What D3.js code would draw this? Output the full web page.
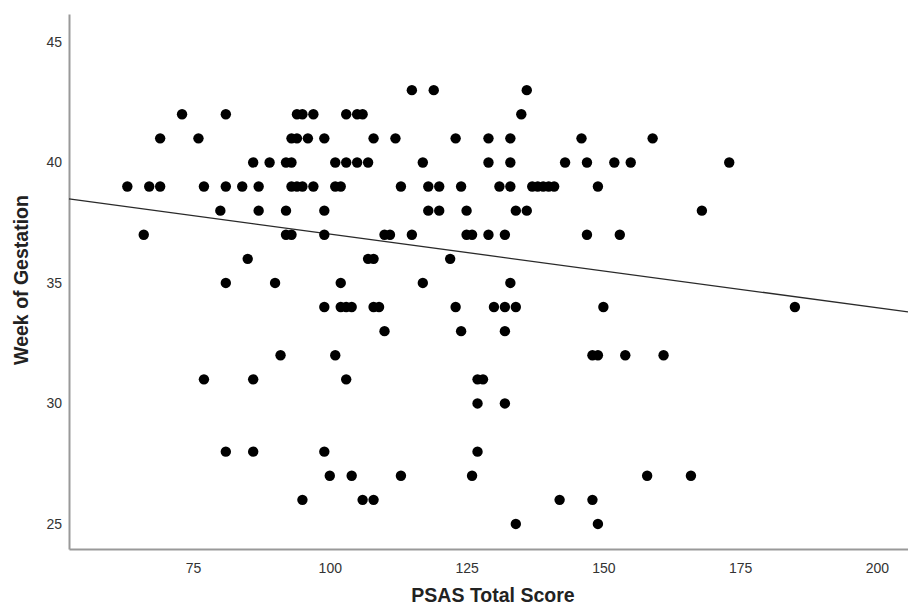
<!DOCTYPE html>
<html>
<head>
<meta charset="utf-8">
<script src="https://cdn.jsdelivr.net/npm/d3@7"></script>
<style>
  html, body { margin: 0; padding: 0; background: #fff; }
  svg { display: block; }
  text { font-family: "Liberation Sans", Arial, Helvetica, sans-serif; }
</style>
</head>
<body>
<svg id="chart" width="908" height="605"></svg>
<script>
// Points: weeks of gestation (y) and PSAS total scores (x) at that week
const weeks = [43, 42, 41, 40, 39, 38, 37, 36, 35, 34, 33, 32, 31, 30, 28, 27, 26, 25];
const scoresByWeek = [
  [115, 119, 136],
  [73, 81, 94, 95, 97, 103, 105, 106, 135],
  [69, 76, 93, 94, 96, 99, 108, 112, 123, 129, 133, 146, 159],
  [86, 89, 92, 93, 101, 103, 105, 107, 117, 129, 133, 143, 147, 152, 155, 173],
  [63, 67, 69, 77, 81, 84, 87, 93, 94, 95, 97, 101, 102, 113, 118, 120, 124, 131, 133, 137, 138, 139, 140, 141, 149],
  [80, 87, 92, 99, 118, 120, 125, 134, 136, 168],
  [66, 92, 93, 99, 110, 111, 115, 125, 126, 129, 132, 147, 153],
  [85, 107, 108, 122],
  [81, 90, 102, 117, 133],
  [99, 102, 103, 104, 108, 109, 123, 130, 132, 134, 150, 185],
  [110, 124, 132],
  [91, 101, 148, 149, 154, 161],
  [77, 86, 103, 127, 128],
  [127, 132],
  [81, 86, 99, 127],
  [100, 104, 113, 126, 158, 166],
  [95, 106, 108, 142, 148],
  [134, 149]
];
const xTicks = [75, 100, 125, 150, 175, 200];
const yTicks = [25, 30, 35, 40, 45];
const fitIntercept = 40.09;
const fitSlope = -0.0306;
const xDomain = [52.34, 205.67];
const yDomain = [23.96, 46.16];
const xTitle = "PSAS Total Score";
const yTitle = "Week of Gestation";

(function () {
const points = [];
weeks.forEach((w, i) => scoresByWeek[i].forEach(s => points.push({x: s, y: w})));

const svg = d3.select("#chart");
const mLeft = 69, mRight = 908, mTop = 14, mBottom = 549;

const x = d3.scaleLinear().domain(xDomain).range([mLeft, mRight]);
const y = d3.scaleLinear().domain(yDomain).range([mBottom, mTop]);

// Axes
const gx = svg.append("g").attr("transform", `translate(0,${mBottom})`)
  .call(d3.axisBottom(x).tickValues(xTicks).tickSize(0).tickSizeOuter(0).tickPadding(14));
const gy = svg.append("g").attr("transform", `translate(${mLeft},0)`)
  .call(d3.axisLeft(y).tickValues(yTicks).tickSize(0).tickSizeOuter(0).tickPadding(7));
[gx, gy].forEach(g => {
  g.select(".domain").attr("stroke", "#999").attr("stroke-width", 2);
  g.selectAll(".tick text").attr("fill", "#333").style("font-size", "14px");
});

// Regression line
const fit = v => fitIntercept + fitSlope * v;
svg.append("line")
  .attr("x1", x(xDomain[0])).attr("y1", y(fit(xDomain[0])))
  .attr("x2", x(xDomain[1])).attr("y2", y(fit(xDomain[1])))
  .attr("stroke", "#2a2a2a").attr("stroke-width", 1.3);

// Points
svg.append("g").selectAll("circle").data(points).join("circle")
  .attr("cx", d => x(d.x)).attr("cy", d => y(d.y))
  .attr("r", 5.2).attr("fill", "#000");

// Titles
svg.append("text")
  .attr("x", 493).attr("y", 602)
  .attr("text-anchor", "middle")
  .style("font-size", "19.5px").style("font-weight", "bold").attr("fill", "#222")
  .text(xTitle);
svg.append("text")
  .attr("transform", "translate(28,280) rotate(-90)")
  .attr("text-anchor", "middle")
  .style("font-size", "19.5px").style("font-weight", "bold").attr("fill", "#222")
  .text(yTitle);
})();
</script>
</body>
</html>
